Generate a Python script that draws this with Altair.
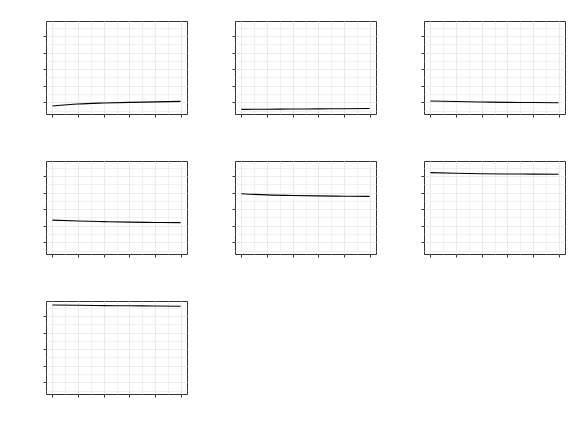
import altair as alt
import pandas as pd

# ---- data ----
x_vals = [0, 1, 2, 3, 4, 5]
panel_1 = [-0.22, -0.10, -0.04, 0.00, 0.03, 0.06]
panel_2 = [-0.42, -0.41, -0.40, -0.39, -0.38, -0.37]
panel_3 = [0.08, 0.05, 0.02, 0.00, -0.01, -0.02]
panel_4 = [1.34, 1.29, 1.25, 1.22, 1.20, 1.19]
panel_5 = [2.93, 2.86, 2.82, 2.80, 2.78, 2.77]
panel_6 = [4.20, 4.16, 4.13, 4.12, 4.11, 4.10]
panel_7 = [4.66, 4.64, 4.62, 4.61, 4.60, 4.58]
panels = [panel_1, panel_2, panel_3, panel_4, panel_5, panel_6, panel_7]

x_major = [0, 1, 2, 3, 4, 5]
x_minor = [0.5, 1.5, 2.5, 3.5, 4.5]
y_major = [0, 1, 2, 3, 4]
y_minor = [-0.5, 0.5, 1.5, 2.5, 3.5, 4.5]
x_domain = [-0.25, 5.25]
y_domain = [-0.7, 4.9]

GRID = "#ebebeb"
DARK = "#333333"


def make_panel(values):
    df = pd.DataFrame({"x": x_vals, "y": values})
    xs = alt.Scale(domain=x_domain, nice=False, zero=False)
    ys = alt.Scale(domain=y_domain, nice=False, zero=False)
    minor = alt.Chart(df).mark_line(opacity=0).encode(
        x=alt.X("x:Q", scale=xs,
                axis=alt.Axis(values=x_minor, orient="top", grid=True, gridColor=GRID,
                              gridWidth=0.7, ticks=False, labels=False, domain=False, title=None)),
        y=alt.Y("y:Q", scale=ys,
                axis=alt.Axis(values=y_minor, orient="right", grid=True, gridColor=GRID,
                              gridWidth=0.7, ticks=False, labels=False, domain=False, title=None)),
    )
    major = alt.Chart(df).mark_line(color="black", strokeWidth=1.1, interpolate="monotone").encode(
        x=alt.X("x:Q", scale=xs,
                axis=alt.Axis(values=x_major, orient="bottom", grid=True, gridColor=GRID,
                              gridWidth=1.1, ticks=True, tickSize=3, tickColor=DARK,
                              labels=False, domain=False, title=None)),
        y=alt.Y("y:Q", scale=ys,
                axis=alt.Axis(values=y_major, orient="left", grid=True, gridColor=GRID,
                              gridWidth=1.1, ticks=True, tickSize=3, tickColor=DARK,
                              labels=False, domain=False, title=None)),
    )
    return alt.layer(minor, major).resolve_axis(x="independent", y="independent").properties(
        width=141, height=93
    )


charts = [make_panel(p) for p in panels]
rows = [
    alt.hconcat(*charts[0:3], spacing=43),
    alt.hconcat(*charts[3:6], spacing=43),
    alt.hconcat(charts[6], spacing=43),
]
chart = alt.vconcat(*rows, spacing=42).properties(
    padding={"left": 42, "top": 20, "right": 5, "bottom": 5}
).configure(background="white").configure_view(stroke=DARK, strokeWidth=1)

chart.save("out.html", embed_options={"renderer": "svg", "actions": False})
